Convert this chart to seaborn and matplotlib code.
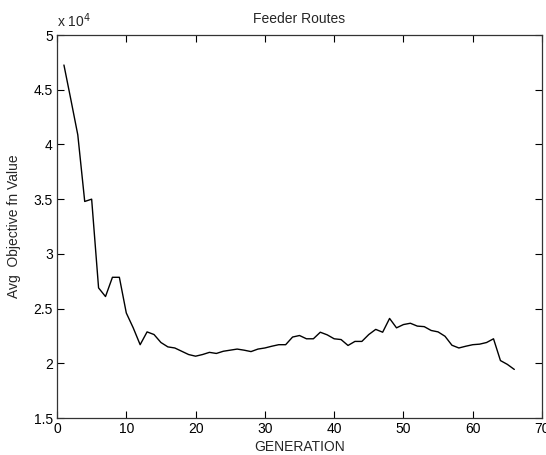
import seaborn as sns
import matplotlib.pyplot as plt
import matplotlib.ticker as mticker
import numpy as np
import pandas as pd

# Data (avg objective value per generation)
generations = np.arange(1, 67)
avg_values = [
    47260, 44100, 40880, 34790, 35000, 26890, 26100, 27860, 27860, 24600,
    23240, 21700, 22870, 22630, 21900, 21500, 21400, 21100, 20800, 20650,
    20800, 21000, 20900, 21100, 21200, 21300, 21200, 21070, 21300, 21400,
    21560, 21700, 21700, 22400, 22540, 22240, 22240, 22840, 22600, 22240,
    22170, 21630, 22000, 22000, 22630, 23100, 22840, 24100, 23240, 23540,
    23660, 23400, 23350, 23000, 22870, 22470, 21650, 21400, 21560, 21700,
    21750, 21900, 22240, 20250, 19900, 19440,
]

df = pd.DataFrame({'GENERATION': generations, 'value': avg_values})

sns.set_style('ticks')
plt.rcParams['font.family'] = ['Liberation Sans', 'DejaVu Sans']

fig = plt.figure(figsize=(5.46, 4.55), dpi=100)
ax = fig.add_axes([0.1044, 0.0813, 0.8883, 0.8417])

sns.lineplot(data=df, x='GENERATION', y='value', ax=ax, color='black', linewidth=1.0)

ax.set_xlim(0, 70)
ax.set_ylim(15000, 50000)
ax.set_xticks(np.arange(0, 71, 10))
ax.set_yticks(np.arange(15000, 50001, 5000))
ax.yaxis.set_major_formatter(mticker.FuncFormatter(lambda v, p: f'{v / 1e4:g}'))

ax.tick_params(direction='in', top=True, right=True, length=5, width=0.8,
               labelsize=10, colors='black', pad=3)
for s in ax.spines.values():
    s.set_visible(True)
    s.set_color('#333333')
    s.set_linewidth(0.9)

ax.set_title('Feeder Routes', fontsize=10, pad=9)
ax.set_xlabel('GENERATION', fontsize=10, labelpad=3)
ax.set_ylabel('Avg  Objective fn Value', fontsize=10, labelpad=9)
ax.text(0.0, 1.012, r'x 10$^4$', transform=ax.transAxes, fontsize=10,
        ha='left', va='bottom')

fig.savefig('out.png', dpi=100)
